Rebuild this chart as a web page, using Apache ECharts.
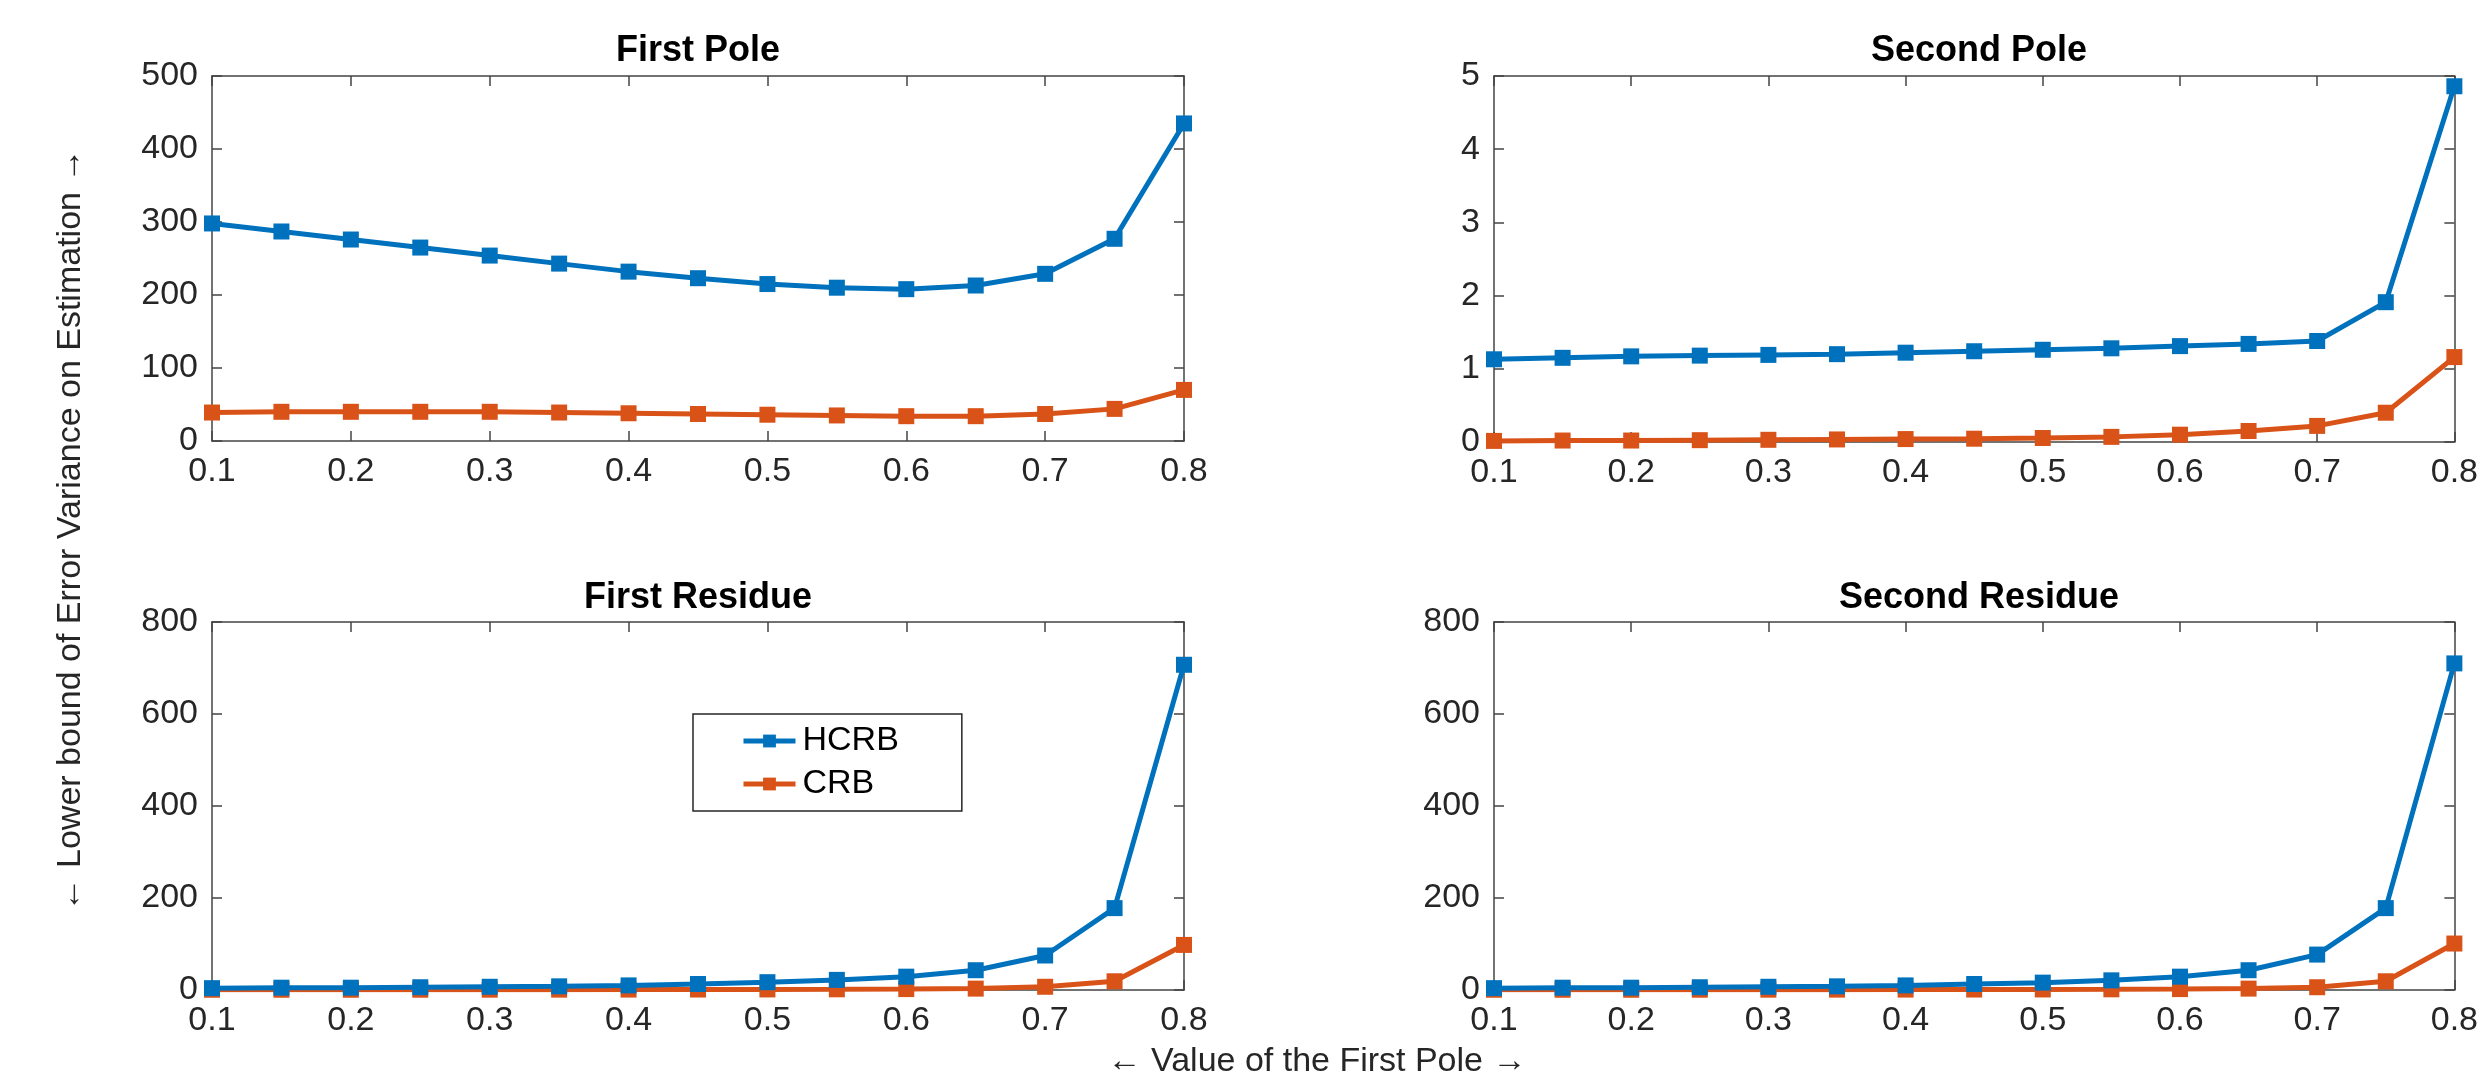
<!DOCTYPE html>
<html>
<head>
<meta charset="utf-8">
<title>HCRB vs CRB</title>
<script src="https://cdn.jsdelivr.net/npm/echarts@6/dist/echarts.min.js"></script>
<style>
  html, body { margin: 0; padding: 0; background: #fff; }
  #main { width: 2481px; height: 1078px; }
</style>
</head>
<body>
<div id="main"></div>
<script>
// value of the first pole
var xValues = [0.1, 0.15, 0.2, 0.25, 0.3, 0.35, 0.4, 0.45, 0.5, 0.55, 0.6, 0.65, 0.7, 0.75, 0.8];

// First Pole
var poleOneHcrb = [298, 287, 276, 265, 254, 243, 232, 223, 215, 210, 208, 213, 229, 277, 435];
var poleOneCrb = [39, 40, 40, 40, 40, 39, 38, 37, 36, 35, 34, 34, 37, 44, 70];
// Second Pole
var poleTwoHcrb = [1.13, 1.15, 1.17, 1.18, 1.19, 1.2, 1.22, 1.24, 1.26, 1.28, 1.31, 1.34, 1.38, 1.91, 4.86];
var poleTwoCrb = [0.015, 0.02, 0.02, 0.025, 0.03, 0.035, 0.04, 0.045, 0.055, 0.07, 0.1, 0.15, 0.22, 0.4, 1.16];
// First Residue
var resOneHcrb = [4, 5, 5, 6, 7, 8, 10, 13, 17, 22, 29, 43, 75, 178, 707];
var resOneCrb = [0.5, 0.5, 0.5, 0.6, 0.7, 0.8, 0.9, 1, 1.2, 1.5, 2, 3, 7, 19, 98];
// Second Residue
var resTwoHcrb = [4, 5, 5, 6, 7, 8, 10, 13, 16, 21, 29, 43, 77, 178, 710];
var resTwoCrb = [0.5, 0.5, 0.5, 0.6, 0.7, 0.8, 0.9, 1, 1.2, 1.5, 2, 3, 6, 19, 101];

var panelTitles = ['First Pole', 'Second Pole', 'First Residue', 'Second Residue'];
var yMax = [500, 5, 800, 800];
var yStep = [100, 1, 200, 200];

var blue = '#0072BD';
var orange = '#D95319';
var axisColor = '#444444';
var font = 'Liberation Sans, Arial, Helvetica, sans-serif';

var grids = [
  { left: 212, top: 76, width: 972, height: 365 },
  { left: 1494, top: 76, width: 970, height: 366 },
  { left: 212, top: 622, width: 972, height: 368 },
  { left: 1494, top: 622, width: 970, height: 368 }
];

function pairs(ys) {
  return xValues.map(function (x, i) { return [x, ys[i]]; });
}

var seriesY = [
  [poleOneHcrb, poleOneCrb],
  [poleTwoHcrb, poleTwoCrb],
  [resOneHcrb, resOneCrb],
  [resTwoHcrb, resTwoCrb]
];

var xAxes = [], yAxes = [], series = [];
grids.forEach(function (g, i) {
  var line = { show: true, onZero: false, lineStyle: { color: axisColor, width: 1.5 } };
  var tick = { show: true, inside: true, length: 10, lineStyle: { color: axisColor, width: 1.5 } };
  // main axes
  xAxes.push({
    type: 'value', gridIndex: i, min: 0.1, max: 0.8, interval: 0.1, position: 'bottom',
    axisLine: line, axisTick: tick,
    axisLabel: { color: '#262626', fontSize: 34, fontFamily: font, margin: 14,
      formatter: function (v) { return v.toFixed(1); } },
    splitLine: { show: false }
  });
  // top edge of box
  xAxes.push({
    type: 'value', gridIndex: i, min: 0.1, max: 0.8, interval: 0.1, position: 'top',
    axisLine: line, axisTick: tick,
    axisLabel: { show: false }, splitLine: { show: false }
  });
  yAxes.push({
    type: 'value', gridIndex: i, min: 0, max: yMax[i], interval: yStep[i], position: 'left',
    axisLine: line, axisTick: tick,
    axisLabel: { color: '#262626', fontSize: 34, fontFamily: font, margin: 14 },
    splitLine: { show: false }
  });
  // right edge of box
  yAxes.push({
    type: 'value', gridIndex: i, min: 0, max: yMax[i], interval: yStep[i], position: 'right',
    axisLine: line, axisTick: tick,
    axisLabel: { show: false }, splitLine: { show: false }
  });

  ['HCRB', 'CRB'].forEach(function (name, k) {
    var c = k === 0 ? blue : orange;
    series.push({
      name: name, type: 'line', xAxisIndex: i * 2, yAxisIndex: i * 2,
      data: pairs(seriesY[i][k]),
      symbol: 'rect', symbolSize: 16, showAllSymbol: true,
      lineStyle: { color: c, width: 5 },
      itemStyle: { color: c, borderWidth: 0 },
      z: 3 - k
    });
  });
});

var titleGraphics = panelTitles.map(function (t, i) {
  var g = grids[i];
  return {
    type: 'text', x: g.left + g.width / 2,
    y: i < 2 ? 51 : 598,
    style: {
      text: t, fontSize: 36, fontWeight: 'bold', fontFamily: font, fill: '#000',
      textAlign: 'center', textVerticalAlign: 'middle'
    }
  };
});

var chart = echarts.init(document.getElementById('main'));
chart.setOption({
  backgroundColor: '#ffffff',
  animation: false,
  grid: grids,
  xAxis: xAxes,
  yAxis: yAxes,
  series: series,
  legend: {
    data: ['HCRB', 'CRB'],
    orient: 'vertical',
    left: 693, top: 714,
    padding: [10, 63, 10, 48],
    itemGap: 9,
    itemWidth: 52, itemHeight: 16,
    borderColor: '#262626', borderWidth: 1.5,
    backgroundColor: '#fff',
    lineStyle: { width: 5 },
    textStyle: { fontSize: 34, fontFamily: font, color: '#000', padding: [0, 0, 0, 2] },
    selectedMode: false
  },
  graphic: titleGraphics.concat([
    {
      type: 'text', x: 71, y: 530, rotation: Math.PI / 2,
      style: {
        text: '\u2190 Lower bound of Error Variance on Estimation \u2192',
        fontSize: 34, fontFamily: font, fill: '#262626',
        textAlign: 'center', textVerticalAlign: 'middle'
      }
    },
    {
      type: 'text', x: 1317, y: 1062,
      style: {
        text: '\u2190 Value of the First Pole \u2192',
        fontSize: 34, fontFamily: font, fill: '#262626',
        textAlign: 'center', textVerticalAlign: 'middle'
      }
    }
  ])
});
</script>
</body>
</html>
